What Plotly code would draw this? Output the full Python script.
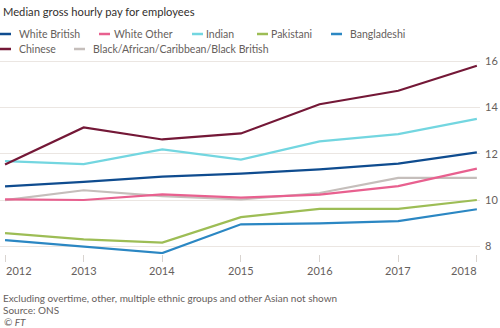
import plotly.graph_objects as go

years = [2012, 2013, 2014, 2015, 2016, 2017, 2018]
year_labels = ["2012", "2013", "2014", "2015", "2016", "2017", "2018"]

white_british = [10.60, 10.79, 11.02, 11.15, 11.33, 11.58, 12.06]
white_other = [10.04, 10.01, 10.25, 10.11, 10.24, 10.61, 11.36]
indian = [11.69, 11.56, 12.19, 11.75, 12.54, 12.85, 13.51]
pakistani = [8.58, 8.31, 8.17, 9.27, 9.63, 9.63, 10.01]
bangladeshi = [8.28, 8.00, 7.72, 8.96, 9.00, 9.10, 9.61]
chinese = [11.54, 13.14, 12.62, 12.88, 14.14, 14.72, 15.80]
black = [10.00, 10.43, 10.18, 10.03, 10.31, 10.96, 10.96]

y_ticks = [8, 10, 12, 14, 16]

series = [
    ("White British", white_british, "#0f4c8f"),
    ("White Other", white_other, "#e8608f"),
    ("Indian", indian, "#73d6e0"),
    ("Pakistani", pakistani, "#9dbd55"),
    ("Bangladeshi", bangladeshi, "#2b87c3"),
    ("Chinese", chinese, "#741837"),
    ("Black/African/Caribbean/Black British", black, "#c5bebb"),
]
draw_order = [6, 1, 4, 3, 0, 2, 5]

W, H = 500, 328
ML, MR, MT, MB = 0, 20, 56, 74
PW, PH = W - ML - MR, H - MT - MB

def px(x):
    return (x - ML) / PW

def py(y):
    return (H - MB - y) / PH

FONT = "Lato"
TEXT = "#66605c"

fig = go.Figure()
for i in draw_order:
    name, vals, col = series[i]
    fig.add_trace(go.Scatter(x=years, y=vals, name=name, mode="lines",
                             line=dict(color=col, width=2.2), showlegend=False))

shapes = []
annotations = []
legend_pos = [
    (0, 34, 17), (99, 34, 112), (192, 34, 204), (257, 34, 269), (331, 34, 348),
    (0, 49, 17), (74, 49, 91),
]
for (name, vals, col), (lx, ly, tx) in zip(series, legend_pos):
    shapes.append(dict(type="line", xref="paper", yref="paper",
                       x0=px(lx), x1=px(lx + 11), y0=py(ly), y1=py(ly),
                       line=dict(color=col, width=2.5)))
    annotations.append(dict(text=name, xref="paper", yref="paper",
                            x=px(tx), y=py(ly), xanchor="left", yanchor="middle",
                            showarrow=False, font=dict(family=FONT, size=10.5, color=TEXT)))

# x-axis labels: first left-aligned, last right-aligned, others centred on tick
for k, (yr, lab) in enumerate(zip(years, year_labels)):
    anchor = "left" if k == 0 else ("right" if k == len(years) - 1 else "center")
    shift = -1 if k == 0 else (2 if k == len(years) - 1 else 0)
    annotations.append(dict(text=lab, xref="x", yref="paper", x=yr, y=py(270),
                            xanchor=anchor, yanchor="middle", xshift=shift, showarrow=False,
                            font=dict(family=FONT, size=11, color=TEXT)))

annotations.append(dict(text="Median gross hourly pay for employees", xref="paper", yref="paper",
                        x=px(1), y=py(12), xanchor="left", yanchor="middle", showarrow=False,
                        font=dict(family=FONT, size=11.2, color="#33302e")))
annotations.append(dict(text="Excluding overtime, other, multiple ethnic groups and other Asian not shown",
                        xref="paper", yref="paper", x=px(1), y=py(298), xanchor="left",
                        yanchor="middle", showarrow=False,
                        font=dict(family=FONT, size=10, color=TEXT)))
annotations.append(dict(text="Source: ONS", xref="paper", yref="paper", x=px(1), y=py(310),
                        xanchor="left", yanchor="middle", showarrow=False,
                        font=dict(family=FONT, size=10, color=TEXT)))
annotations.append(dict(text="<i>© FT</i>", xref="paper", yref="paper", x=px(2), y=py(322),
                        xanchor="left", yanchor="middle", showarrow=False,
                        font=dict(family=FONT, size=10, color=TEXT)))

fig.update_layout(
    width=W, height=H,
    margin=dict(l=ML, r=MR, t=MT, b=MB, pad=0),
    paper_bgcolor="white", plot_bgcolor="white",
    shapes=shapes, annotations=annotations,
    showlegend=False,
    xaxis=dict(range=[2011.936, 2018.04], tickvals=years, showticklabels=False,
               showgrid=False, zeroline=False, showline=False,
               ticks="outside", ticklen=7, tickcolor="#d9d4d0", tickwidth=1),
    yaxis=dict(range=[7.68, 16.22], tickvals=y_ticks, side="right",
               showgrid=True, gridcolor="#ebe6e2", gridwidth=1, zeroline=False,
               showline=False, ticks="", ticklabelstandoff=4,
               tickfont=dict(family=FONT, size=11, color=TEXT)),
)

fig.write_html("out.html")
